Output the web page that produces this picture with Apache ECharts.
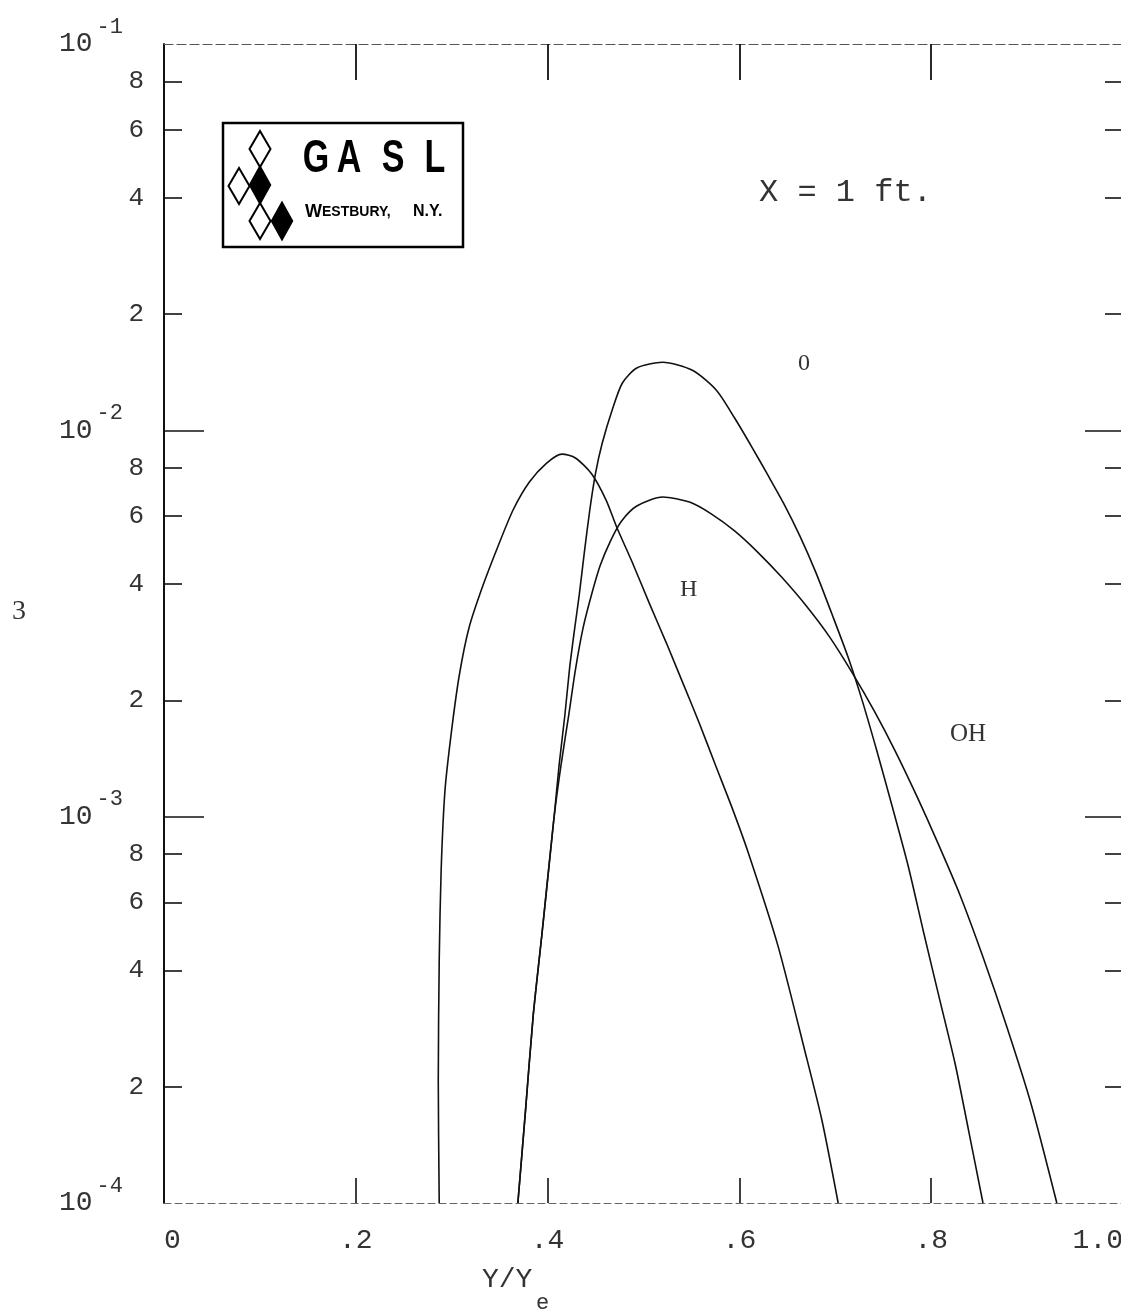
<!DOCTYPE html>
<html>
<head>
<meta charset="utf-8">
<script src="https://cdn.jsdelivr.net/npm/echarts@6/dist/echarts.min.js"></script>
<style>
  html, body { margin: 0; padding: 0; background: #fff; }
  #chart { width: 1121px; height: 1315px; }
</style>
</head>
<body>
<div id="chart"></div>
<script>
// Axis ticks and labels
const xTickValues = [0, 0.2, 0.4, 0.6, 0.8, 1.0];
const xTickLabels = ['0', '.2', '.4', '.6', '.8', '1.0'];
const innerXTicks = [0.2, 0.4, 0.6, 0.8];
const decadeExponents = [-4, -3, -2, -1];
const minorMantissas = [2, 4, 6, 8];

// Species concentration profiles at X = 1 ft, [Y/Ye, value]
const curveH = [
  [0.287, 1.0e-4], [0.286, 2.08e-4], [0.287, 4.26e-4], [0.289, 7.27e-4],
  [0.293, 1.17e-3], [0.300, 1.68e-3], [0.308, 2.33e-3], [0.318, 3.08e-3],
  [0.332, 3.93e-3], [0.348, 4.99e-3], [0.364, 6.22e-3], [0.381, 7.35e-3],
  [0.399, 8.23e-3], [0.415, 8.68e-3], [0.429, 8.48e-3], [0.446, 7.71e-3],
  [0.461, 6.60e-3], [0.472, 5.62e-3], [0.489, 4.51e-3], [0.506, 3.57e-3],
  [0.524, 2.81e-3], [0.541, 2.22e-3], [0.558, 1.75e-3], [0.575, 1.36e-3],
  [0.592, 1.06e-3], [0.609, 8.10e-4], [0.640, 4.65e-4], [0.668, 2.49e-4],
  [0.686, 1.64e-4], [0.703, 1.0e-4]
];
const curveO = [
  [0.369, 1.0e-4], [0.377, 1.74e-4], [0.385, 3.06e-4], [0.394, 4.94e-4],
  [0.401, 7.27e-4], [0.407, 1.01e-3], [0.412, 1.36e-3], [0.418, 1.83e-3],
  [0.423, 2.43e-3], [0.428, 3.04e-3], [0.433, 3.75e-3], [0.438, 4.76e-3],
  [0.444, 6.22e-3], [0.450, 7.75e-3], [0.457, 9.27e-3], [0.468, 1.142e-2],
  [0.478, 1.326e-2], [0.493, 1.45e-2], [0.520, 1.50e-2], [0.551, 1.43e-2],
  [0.576, 1.27e-2], [0.595, 1.076e-2], [0.613, 9.05e-3], [0.629, 7.71e-3],
  [0.646, 6.48e-3], [0.663, 5.33e-3], [0.680, 4.27e-3], [0.696, 3.37e-3],
  [0.713, 2.60e-3], [0.728, 2.00e-3], [0.743, 1.49e-3], [0.759, 1.07e-3],
  [0.776, 7.45e-4], [0.792, 5.03e-4], [0.809, 3.35e-4], [0.825, 2.29e-4],
  [0.839, 1.54e-4], [0.854, 1.0e-4]
];
const curveOH = [
  [0.369, 1.0e-4], [0.377, 1.74e-4], [0.385, 3.06e-4], [0.394, 4.94e-4],
  [0.401, 7.27e-4], [0.407, 1.01e-3], [0.414, 1.36e-3], [0.422, 1.83e-3],
  [0.429, 2.40e-3], [0.437, 3.08e-3], [0.446, 3.77e-3], [0.455, 4.48e-3],
  [0.466, 5.20e-3], [0.477, 5.82e-3], [0.493, 6.37e-3], [0.520, 6.72e-3],
  [0.548, 6.52e-3], [0.571, 6.07e-3], [0.595, 5.49e-3], [0.619, 4.84e-3],
  [0.644, 4.17e-3], [0.669, 3.53e-3], [0.694, 2.92e-3], [0.718, 2.35e-3],
  [0.741, 1.87e-3], [0.763, 1.47e-3], [0.785, 1.13e-3], [0.807, 8.54e-4],
  [0.830, 6.27e-4], [0.854, 4.33e-4], [0.879, 2.85e-4], [0.904, 1.81e-4],
  [0.931, 1.0e-4]
];

const LOG_MIN = -4, LOG_MAX = -1;
const majorLogTicks = decadeExponents.filter(e => e > LOG_MIN && e < LOG_MAX);
const minorLogTicks = decadeExponents.slice(0, -1)
  .flatMap(e => minorMantissas.map(m => e + Math.log10(m)));

const MONO = '"Liberation Mono", "DejaVu Sans Mono", monospace';
const SERIF = '"Liberation Serif", "DejaVu Serif", serif';
const SANS = '"Liberation Sans", "DejaVu Sans", sans-serif';
const INK = '#111';
const TEXT = '#333';

function xLabel(v) {
  const i = xTickValues.findIndex(t => Math.abs(t - v) < 1e-9);
  return i >= 0 ? xTickLabels[i] : '';
}
function decadeLabel(v) {
  return '{b|10}{s|-' + Math.abs(Math.round(v)) + '}';
}
function mantissaLabel(v) {
  const e = Math.floor(v + 1e-9);
  return String(Math.round(Math.pow(10, v - e)));
}

// Decorative value axes in log10 units that carry the decade and 2-4-6-8 ticks
function tickAxis(position, values, length, labels) {
  return {
    type: 'value', position: position, min: LOG_MIN, max: LOG_MAX,
    axisLine: { show: false },
    splitLine: { show: false },
    axisTick: {
      show: true, inside: true, length: length,
      customValues: values,
      lineStyle: { color: INK, width: 1.6 }
    },
    axisLabel: labels || { show: false }
  };
}

const chart = echarts.init(document.getElementById('chart'), null, { renderer: 'canvas' });

const option = {
  backgroundColor: '#ffffff',
  animation: false,
  grid: { left: 164, right: -2, top: 44, bottom: 112, containLabel: false, outerBoundsMode: 'none' },
  xAxis: [
    {
      type: 'value', position: 'bottom', min: 0, max: 1, interval: 0.2,
      axisLine: { lineStyle: { color: '#666', width: 1, type: [7, 4] } },
      axisTick: { inside: true, length: 25, customValues: innerXTicks, lineStyle: { color: INK, width: 1.6 } },
      axisLabel: {
        customValues: xTickValues, formatter: xLabel, margin: 24,
        fontFamily: MONO, fontSize: 28, color: TEXT,
        alignMinLabel: 'left', alignMaxLabel: 'right'
      },
      splitLine: { show: false }
    },
    {
      type: 'value', position: 'top', min: 0, max: 1, interval: 0.2,
      axisLine: { lineStyle: { color: '#555', width: 1.2, type: [9, 4] } },
      axisTick: { inside: true, length: 36, customValues: innerXTicks, lineStyle: { color: INK, width: 1.8 } },
      axisLabel: { show: false },
      splitLine: { show: false }
    }
  ],
  yAxis: [
    {
      type: 'log', logBase: 10, position: 'left', min: 1e-4, max: 1e-1,
      axisLine: { show: true, lineStyle: { color: INK, width: 2 } },
      axisTick: { show: false },
      axisLabel: { show: false },
      splitLine: { show: false },
      minorTick: { show: false }
    },
    tickAxis('left', majorLogTicks, 40, {
      show: true, customValues: decadeExponents, formatter: decadeLabel, margin: 41,
      rich: {
        b: { fontFamily: MONO, fontSize: 28, color: TEXT, lineHeight: 56 },
        s: { fontFamily: MONO, fontSize: 22, color: TEXT, lineHeight: 16, verticalAlign: 'top', padding: [0, 0, 0, 4] }
      }
    }),
    tickAxis('left', minorLogTicks, 18, {
      show: true, customValues: minorLogTicks, formatter: mantissaLabel, margin: 20,
      fontFamily: MONO, fontSize: 26, color: TEXT
    }),
    tickAxis('right', majorLogTicks, 38, null),
    tickAxis('right', minorLogTicks, 18, null)
  ],
  series: [
    { name: 'H', data: curveH },
    { name: 'O', data: curveO },
    { name: 'OH', data: curveOH }
  ].map(s => ({
    name: s.name, type: 'line', data: s.data,
    xAxisIndex: 0, yAxisIndex: 0,
    showSymbol: false, smooth: 0.25, smoothMonotone: null,
    lineStyle: { color: INK, width: 1.6 },
    emphasis: { disabled: true }
  })),
  graphic: [
    // axis titles and annotations
    { type: 'text', left: 12, top: 598, style: { text: '3', font: '28px ' + SERIF, fill: TEXT } },
    { type: 'text', left: 482, top: 1266, style: { text: 'Y/Y', font: '28px ' + MONO, fill: TEXT } },
    { type: 'text', left: 536, top: 1292, style: { text: 'e', font: '22px ' + MONO, fill: TEXT } },
    { type: 'text', left: 759, top: 177, style: { text: 'X = 1 ft.', font: '32px ' + MONO, fill: TEXT } },
    { type: 'text', left: 798, top: 352, style: { text: '0', font: '24px ' + SERIF, fill: TEXT } },
    { type: 'text', left: 680, top: 578, style: { text: 'H', font: '24px ' + SERIF, fill: TEXT } },
    { type: 'text', left: 950, top: 722, style: { text: 'OH', font: '25px ' + SERIF, fill: TEXT } },
    // company mark
    {
      type: 'group',
      children: [
        { type: 'rect', shape: { x: 223, y: 123, width: 240, height: 124 }, style: { fill: '#fff', stroke: '#000', lineWidth: 2.5 } },
        { type: 'polygon', shape: { points: [[260, 131], [270.5, 149], [260, 167], [249.5, 149]] }, style: { fill: '#fff', stroke: '#000', lineWidth: 2 } },
        { type: 'polygon', shape: { points: [[239, 168], [249.5, 186], [239, 204], [228.5, 186]] }, style: { fill: '#fff', stroke: '#000', lineWidth: 2 } },
        { type: 'polygon', shape: { points: [[260, 166], [270.5, 185], [260, 204], [249.5, 185]] }, style: { fill: '#000', stroke: '#000', lineWidth: 1.5 } },
        { type: 'polygon', shape: { points: [[260, 203], [270.5, 221], [260, 239], [249.5, 221]] }, style: { fill: '#fff', stroke: '#000', lineWidth: 2 } },
        { type: 'polygon', shape: { points: [[282, 202], [292.5, 221], [282, 240], [271.5, 221]] }, style: { fill: '#000', stroke: '#000', lineWidth: 1.5 } },
        { type: 'text', x: 316, y: 159, scaleX: 0.74, style: { text: 'G', font: 'bold 46px ' + SANS, fill: '#000', align: 'center', verticalAlign: 'middle' } },
        { type: 'text', x: 349, y: 159, scaleX: 0.74, style: { text: 'A', font: 'bold 46px ' + SANS, fill: '#000', align: 'center', verticalAlign: 'middle' } },
        { type: 'text', x: 393, y: 159, scaleX: 0.74, style: { text: 'S', font: 'bold 46px ' + SANS, fill: '#000', align: 'center', verticalAlign: 'middle' } },
        { type: 'text', x: 435, y: 159, scaleX: 0.74, style: { text: 'L', font: 'bold 46px ' + SANS, fill: '#000', align: 'center', verticalAlign: 'middle' } },
        { type: 'text', x: 305, y: 212, style: { text: '{w|W}{r|ESTBURY,}', verticalAlign: 'middle', rich: {
            w: { font: 'bold 18px ' + SANS, fill: '#000' },
            r: { font: 'bold 14px ' + SANS, fill: '#000' } } } },
        { type: 'text', x: 413, y: 212, style: { text: 'N.Y.', font: 'bold 16px ' + SANS, fill: '#000', verticalAlign: 'middle' } }
      ]
    }
  ]
};

chart.setOption(option);
</script>
</body>
</html>
